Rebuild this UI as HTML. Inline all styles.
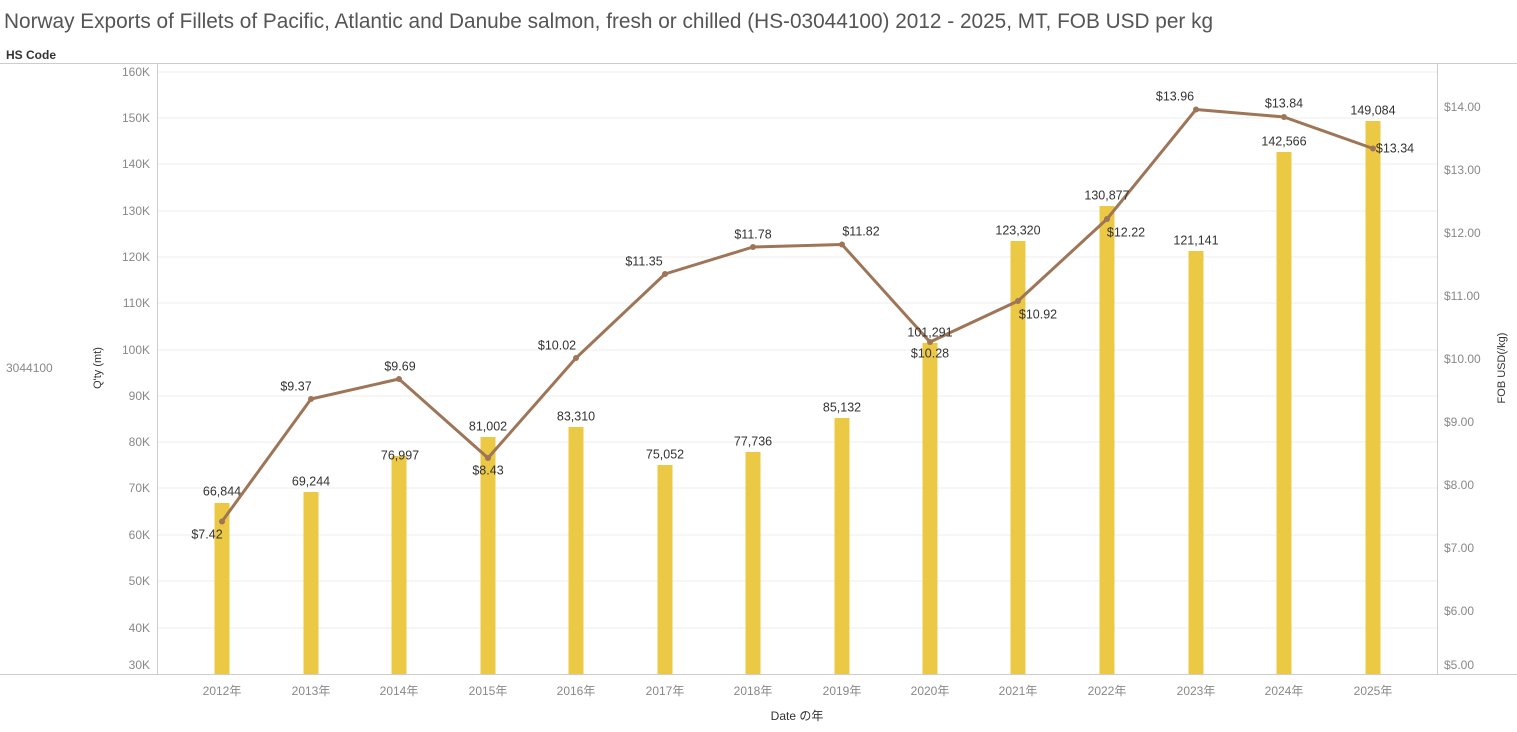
<!DOCTYPE html>
<html><head><meta charset="utf-8"><style>
body{margin:0;background:#fff;}
svg{display:block;font-family:"Liberation Sans","Noto Sans CJK JP",sans-serif;}
</style></head><body>
<svg width="1517" height="732" xmlns="http://www.w3.org/2000/svg">
<text x="4" y="28" font-size="20.8" fill="#555">Norway Exports of Fillets of Pacific, Atlantic and Danube salmon, fresh or chilled (HS-03044100) 2012 - 2025, MT, FOB USD per kg</text>
<text x="6" y="59" font-size="12" fill="#333" font-weight="bold">HS Code</text>
<line x1="0" y1="63.5" x2="1517" y2="63.5" stroke="#ccc"/>
<line x1="0" y1="674.5" x2="1517" y2="674.5" stroke="#ccc"/>
<line x1="157.5" y1="63" x2="157.5" y2="674" stroke="#ccc"/>
<line x1="1437.5" y1="63" x2="1437.5" y2="674" stroke="#ccc"/>
<g stroke="#eee">
<line x1="158" y1="72" x2="1437" y2="72"/><line x1="158" y1="118" x2="1437" y2="118"/><line x1="158" y1="164" x2="1437" y2="164"/><line x1="158" y1="211" x2="1437" y2="211"/><line x1="158" y1="257" x2="1437" y2="257"/><line x1="158" y1="303" x2="1437" y2="303"/><line x1="158" y1="350" x2="1437" y2="350"/><line x1="158" y1="396" x2="1437" y2="396"/><line x1="158" y1="442" x2="1437" y2="442"/><line x1="158" y1="488" x2="1437" y2="488"/><line x1="158" y1="535" x2="1437" y2="535"/><line x1="158" y1="581" x2="1437" y2="581"/><line x1="158" y1="628" x2="1437" y2="628"/>
</g>
<g font-size="12" fill="#888" text-anchor="end">
<text x="150" y="76">160K</text><text x="150" y="122">150K</text><text x="150" y="168">140K</text><text x="150" y="215">130K</text><text x="150" y="261">120K</text><text x="150" y="307">110K</text><text x="150" y="354">100K</text><text x="150" y="400">90K</text><text x="150" y="446">80K</text><text x="150" y="492">70K</text><text x="150" y="539">60K</text><text x="150" y="585">50K</text><text x="150" y="632">40K</text><text x="150" y="669">30K</text>
</g>
<g font-size="12" fill="#888">
<text x="1444" y="111">$14.00</text><text x="1444" y="174">$13.00</text><text x="1444" y="237">$12.00</text><text x="1444" y="300">$11.00</text><text x="1444" y="363">$10.00</text><text x="1444" y="426">$9.00</text><text x="1444" y="489">$8.00</text><text x="1444" y="552">$7.00</text><text x="1444" y="615">$6.00</text><text x="1444" y="669">$5.00</text>
</g>
<text x="6" y="372" font-size="12" fill="#888">3044100</text>
<text transform="translate(101,368) rotate(-90)" font-size="11" fill="#333" text-anchor="middle">Q'ty (mt)</text>
<text transform="translate(1505,368) rotate(-90)" font-size="11" fill="#333" text-anchor="middle">FOB USD(/kg)</text>
<text x="797" y="720" font-size="12" fill="#333" text-anchor="middle">Date の年</text>
<g fill="#ebc944">
<rect x="214.5" y="503" width="15" height="171"/>
<rect x="303.5" y="492" width="15" height="182"/>
<rect x="391.5" y="456" width="15" height="218"/>
<rect x="480.5" y="437" width="15" height="237"/>
<rect x="568.5" y="427" width="15" height="247"/>
<rect x="657.5" y="465" width="15" height="209"/>
<rect x="745.5" y="452" width="15" height="222"/>
<rect x="834.5" y="418" width="15" height="256"/>
<rect x="922.5" y="343" width="15" height="331"/>
<rect x="1010.5" y="241" width="15" height="433"/>
<rect x="1099.5" y="206" width="15" height="468"/>
<rect x="1188.5" y="251" width="15" height="423"/>
<rect x="1276.5" y="152" width="15" height="522"/>
<rect x="1365.5" y="121" width="15" height="553"/>
</g>
<g font-size="12" fill="#888" text-anchor="middle">
<text x="222" y="695">2012年</text><text x="311" y="695">2013年</text><text x="399" y="695">2014年</text><text x="488" y="695">2015年</text><text x="576" y="695">2016年</text><text x="665" y="695">2017年</text><text x="753" y="695">2018年</text><text x="842" y="695">2019年</text><text x="930" y="695">2020年</text><text x="1018" y="695">2021年</text><text x="1107" y="695">2022年</text><text x="1196" y="695">2023年</text><text x="1284" y="695">2024年</text><text x="1373" y="695">2025年</text>
</g>
<polyline fill="none" stroke="#9e7556" stroke-width="3" stroke-linejoin="round" points="222,521.5 311,399 399,379 488,458 576,358 665,274 753,247 842,244.5 930,342 1018,301 1107,219 1196,109.5 1284,117 1373,148.5"/>
<g fill="#9e7556">
<circle cx="222" cy="521.5" r="3"/><circle cx="311" cy="399" r="3"/><circle cx="399" cy="379" r="3"/><circle cx="488" cy="458" r="3"/><circle cx="576" cy="358" r="3"/><circle cx="665" cy="274" r="3"/><circle cx="753" cy="247" r="3"/><circle cx="842" cy="244.5" r="3"/><circle cx="930" cy="342" r="3"/><circle cx="1018" cy="301" r="3"/><circle cx="1107" cy="219" r="3"/><circle cx="1196" cy="109.5" r="3"/><circle cx="1284" cy="117" r="3"/><circle cx="1373" cy="148.5" r="3"/>
</g>
<g font-size="12.5" fill="#333" text-anchor="middle" dominant-baseline="middle">
<text x="222" y="492">66,844</text><text x="311" y="482">69,244</text><text x="400" y="456">76,997</text><text x="488" y="427">81,002</text><text x="576" y="417">83,310</text><text x="665" y="455">75,052</text><text x="753" y="442">77,736</text><text x="842" y="408">85,132</text><text x="930" y="333">101,291</text><text x="1018" y="231">123,320</text><text x="1107" y="196">130,877</text><text x="1196" y="241">121,141</text><text x="1284" y="142">142,566</text><text x="1373" y="111">149,084</text>
<text x="207" y="535">$7.42</text><text x="296" y="387">$9.37</text><text x="400" y="367">$9.69</text><text x="488" y="471">$8.43</text><text x="557" y="346">$10.02</text><text x="644" y="262">$11.35</text><text x="753" y="235">$11.78</text><text x="861" y="232">$11.82</text><text x="930" y="354">$10.28</text><text x="1038" y="315">$10.92</text><text x="1126" y="233">$12.22</text><text x="1175" y="97">$13.96</text><text x="1284" y="104">$13.84</text><text x="1395" y="149">$13.34</text>
</g>
</svg>
</body></html>
